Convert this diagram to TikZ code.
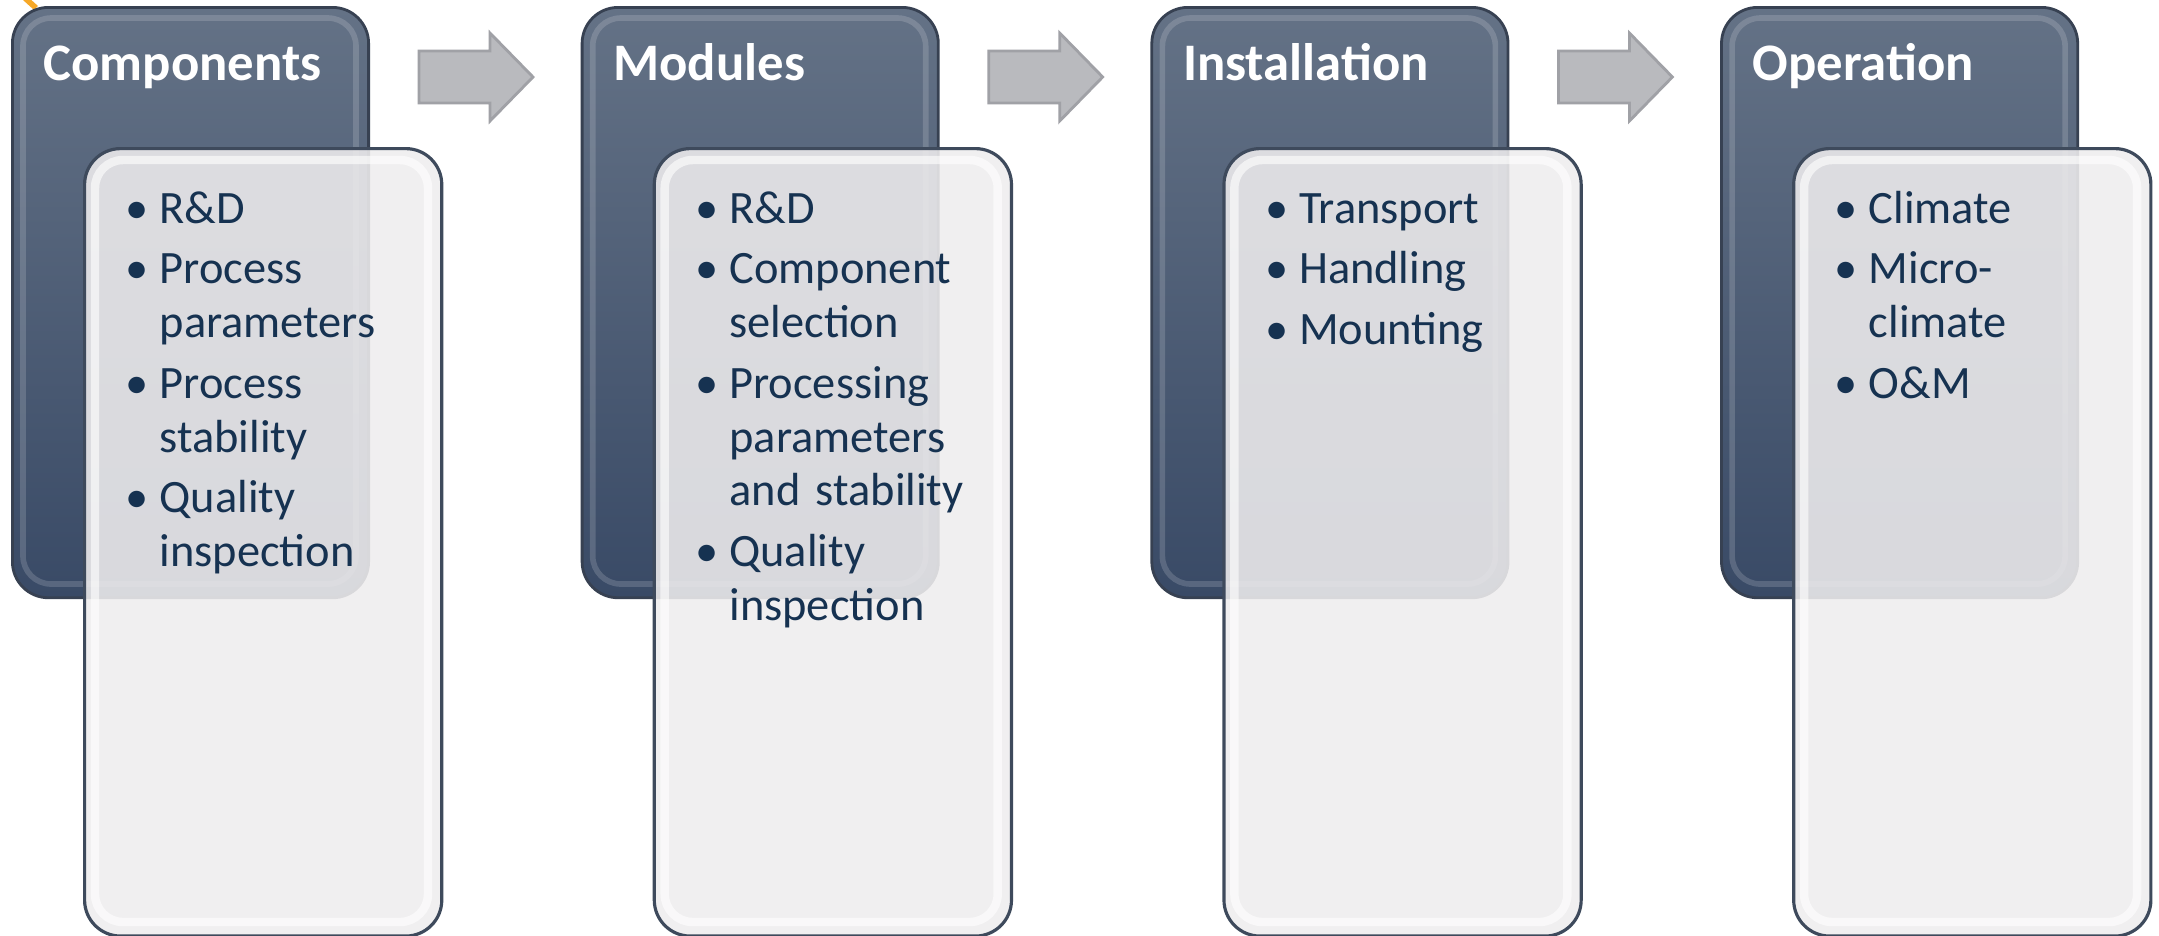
\documentclass[tikz,border=0pt]{standalone}
\usepackage{fontspec}
\setmainfont{Carlito}
\definecolor{darktop}{RGB}{100,114,134}
\definecolor{darkbot}{RGB}{57,74,102}
\definecolor{darkedge}{RGB}{55,65,82}
\definecolor{lightfill}{RGB}{239,237,238}
\definecolor{lightedge}{RGB}{62,74,92}
\definecolor{arrowfill}{RGB}{185,186,190}
\definecolor{arrowedge}{RGB}{160,161,166}
\definecolor{bullettext}{RGB}{22,50,81}
\definecolor{orangeline}{RGB}{246,168,40}
\newcommand{\nlbreak}{\hfil\break}
\newcommand{\firstitem}[1]{\noindent\hangindent=0.34cm\hangafter=1\rightskip=0pt plus 1fil\makebox[0.34cm][l]{\textbullet}#1}
\newcommand{\nextitem}[1]{\par\vspace{2pt}\noindent\hangindent=0.34cm\hangafter=1\rightskip=0pt plus 1fil\makebox[0.34cm][l]{\textbullet}#1}
\tikzset{
  darkbox/.style={draw=darkedge, line width=0.8pt, rounded corners=0.36cm,
    top color=darktop, bottom color=darkbot, minimum width=3.56cm,
    minimum height=5.90cm, anchor=north west, inner sep=0pt},
  darkgloss/.style={draw=white, draw opacity=0.16, line width=1.6pt, rounded corners=0.28cm},
  lightbox/.style={draw=lightedge, line width=0.9pt, rounded corners=0.36cm,
    fill=lightfill, fill opacity=0.88, minimum width=3.57cm,
    minimum height=7.87cm, anchor=north west, inner sep=0pt},
  lightgloss/.style={draw=white, draw opacity=0.6, line width=2.4pt, rounded corners=0.28cm},
  titletext/.style={anchor=base west, inner sep=0pt, text=white,
    font=\fontsize{15pt}{18pt}\selectfont\bfseries},
  listtext/.style={anchor=base west, inner sep=0pt, text=bullettext, text width=3.2cm,
    font=\fontsize{13.2pt}{15.28pt}\selectfont},
  arrowshape/.style={fill=arrowfill, draw=arrowedge, line width=0.8pt},
}
\begin{document}
\begin{tikzpicture}[x=0.01cm,y=-0.01cm]
\useasboundingbox (0,0) rectangle (2159,935);
\fill[white] (0,0) rectangle (2159,935);
\draw[orangeline, line width=1.6pt] (25,-2) -- (36,8);
\foreach \i/\ttl/\nm in {0/Components/a,1/Modules/b,2/Installation/c,3/Operation/d}{
  \pgfmathsetmacro{\dx}{\i*569.7}
  \begin{scope}[xshift=\dx*0.01cm]
    \node[darkbox] (dark\nm) at (11,6) {};
    \draw[darkgloss] (23,18) rectangle (356,584);
    \node[titletext] (title\nm) at (43,80) {\ttl};
    \node[lightbox] (light\nm) at (83,147) {};
    \draw[lightgloss] (95,160) rectangle (428,922);
  \end{scope}
}
\foreach \i/\nm in {0/a,1/b,2/c}{
  \pgfmathsetmacro{\dx}{\i*569.7}
  \begin{scope}[xshift=\dx*0.01cm]
    \path[arrowshape] (419,51) -- (490,51) -- (490,33) -- (533,77) -- (490,121) -- (490,103) -- (419,103) -- cycle;
  \end{scope}
}
\node[listtext] (lista) at (125,223) {\firstitem{R\&D}\nextitem{Process\nlbreak parameters}\nextitem{Process\nlbreak stability}\nextitem{Quality\nlbreak inspection}\par};
\node[listtext] (listb) at (694.7,223) {\firstitem{R\&D}\nextitem{Component\nlbreak selection}\nextitem{Processing\nlbreak parameters\nlbreak and stability}\nextitem{Quality\nlbreak inspection}\par};
\node[listtext] (listc) at (1264.4,223) {\firstitem{Transport}\nextitem{Handling}\nextitem{Mounting}\par};
\node[listtext] (listd) at (1834.1,223) {\firstitem{Climate}\nextitem{Micro-\nlbreak climate}\nextitem{O\&M}\par};
\end{tikzpicture}
\end{document}
